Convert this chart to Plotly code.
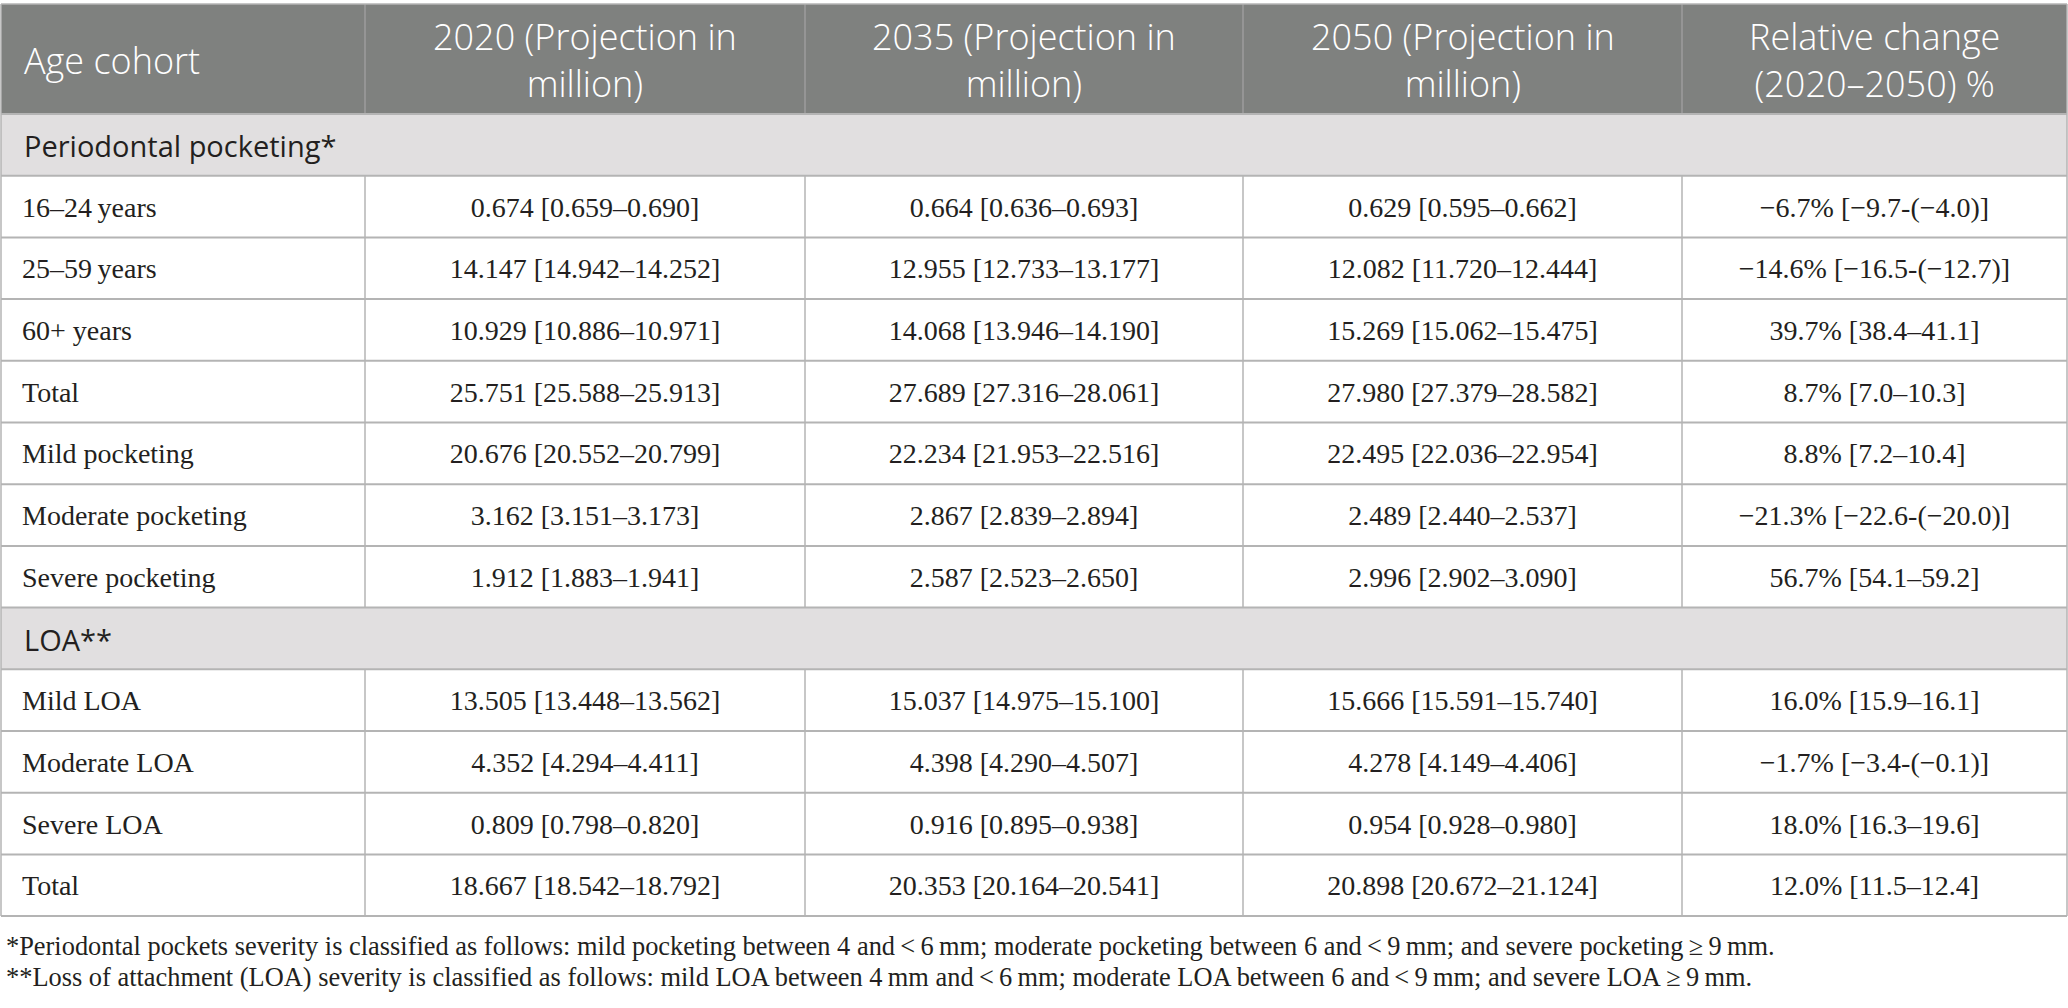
import plotly.graph_objects as go

# table content
HEADERS = ["Age cohort",
           "2020 (Projection in<br>million)",
           "2035 (Projection in<br>million)",
           "2050 (Projection in<br>million)",
           "Relative change<br>(2020–2050) %"]

SECTIONS = ["Periodontal pocketing*", "LOA**"]

POCKET_LABELS = ["16–24\u2009years", "25–59\u2009years", "60+ years", "Total",
                 "Mild pocketing", "Moderate pocketing", "Severe pocketing"]
POCKET_2020 = ["0.674 [0.659–0.690]", "14.147 [14.942–14.252]", "10.929 [10.886–10.971]",
               "25.751 [25.588–25.913]", "20.676 [20.552–20.799]", "3.162 [3.151–3.173]",
               "1.912 [1.883–1.941]"]
POCKET_2035 = ["0.664 [0.636–0.693]", "12.955 [12.733–13.177]", "14.068 [13.946–14.190]",
               "27.689 [27.316–28.061]", "22.234 [21.953–22.516]", "2.867 [2.839–2.894]",
               "2.587 [2.523–2.650]"]
POCKET_2050 = ["0.629 [0.595–0.662]", "12.082 [11.720–12.444]", "15.269 [15.062–15.475]",
               "27.980 [27.379–28.582]", "22.495 [22.036–22.954]", "2.489 [2.440–2.537]",
               "2.996 [2.902–3.090]"]
POCKET_CHANGE = ["−6.7% [−9.7-(−4.0)]", "−14.6% [−16.5-(−12.7)]", "39.7% [38.4–41.1]",
                 "8.7% [7.0–10.3]", "8.8% [7.2–10.4]", "−21.3% [−22.6-(−20.0)]",
                 "56.7% [54.1–59.2]"]

LOA_LABELS = ["Mild LOA", "Moderate LOA", "Severe LOA", "Total"]
LOA_2020 = ["13.505 [13.448–13.562]", "4.352 [4.294–4.411]", "0.809 [0.798–0.820]",
            "18.667 [18.542–18.792]"]
LOA_2035 = ["15.037 [14.975–15.100]", "4.398 [4.290–4.507]", "0.916 [0.895–0.938]",
            "20.353 [20.164–20.541]"]
LOA_2050 = ["15.666 [15.591–15.740]", "4.278 [4.149–4.406]", "0.954 [0.928–0.980]",
            "20.898 [20.672–21.124]"]
LOA_CHANGE = ["16.0% [15.9–16.1]", "−1.7% [−3.4-(−0.1)]", "18.0% [16.3–19.6]",
              "12.0% [11.5–12.4]"]

FOOTNOTES = [
    "*Periodontal pockets severity is classified as follows: mild pocketing between 4 and\u2009<\u20096\u2009mm; "
    "moderate pocketing between 6 and\u2009<\u20099\u2009mm; and severe pocketing\u2009≥\u20099\u2009mm.",
    "**Loss of attachment (LOA) severity is classified as follows: mild LOA between 4\u2009mm and\u2009<\u20096\u2009mm; "
    "moderate LOA between 6 and\u2009<\u20099\u2009mm; and severe LOA\u2009≥\u20099\u2009mm.",
]

# layout styling
W, H = 2068, 1008
COL_EDGES = [1, 365, 805, 1243, 1682, 2067]
TOP = 4
HEADER_H = 110
ROW_H = 61.7
PAD = 21
HEAD_BG = "#7f817f"
SECT_BG = "#e1dfe0"
GRID = "#b4b4b4"
HEAD_GRID = "#9c9d9c"
INK = "#231f20"
SANS = "Open Sans"
SERIF = "Liberation Serif"

# assemble rows: ("section", text) or ("data", [label, v1..v4])
rows = [("section", SECTIONS[0])]
for r in zip(POCKET_LABELS, POCKET_2020, POCKET_2035, POCKET_2050, POCKET_CHANGE):
    rows.append(("data", list(r)))
rows.append(("section", SECTIONS[1]))
for r in zip(LOA_LABELS, LOA_2020, LOA_2035, LOA_2050, LOA_CHANGE):
    rows.append(("data", list(r)))

edges = [TOP, TOP + HEADER_H] + [TOP + HEADER_H + ROW_H * (i + 1) for i in range(len(rows))]
bottom = edges[-1]
centers = [(a + b) / 2 for a, b in zip(COL_EDGES[:-1], COL_EDGES[1:])]

fig = go.Figure()
shapes = []
annotations = []

# header
shapes.append(dict(type="rect", x0=COL_EDGES[0], x1=COL_EDGES[-1], y0=edges[0], y1=edges[1],
                   fillcolor=HEAD_BG, line_width=0, layer="below"))
for x in COL_EDGES[1:-1]:
    shapes.append(dict(type="line", x0=x, x1=x, y0=edges[0], y1=edges[1],
                       line=dict(color=HEAD_GRID, width=1.5), layer="below"))
for i, h in enumerate(HEADERS):
    annotations.append(dict(
        x=COL_EDGES[0] + PAD if i == 0 else centers[i], y=(edges[0] + edges[1]) / 2 + 1,
        text=h, showarrow=False, xanchor="left" if i == 0 else "center", yanchor="middle",
        align="left" if i == 0 else "center",
        font=dict(family=SANS, size=36, color="white", weight=300)))

# body
data_x, data_y, data_text, data_pos = [], [], [], []
for k, (kind, content) in enumerate(rows):
    y0, y1 = edges[k + 1], edges[k + 2]
    ym = (y0 + y1) / 2
    if kind == "section":
        shapes.append(dict(type="rect", x0=COL_EDGES[0], x1=COL_EDGES[-1], y0=y0, y1=y1,
                           fillcolor=SECT_BG, line_width=0, layer="below"))
        annotations.append(dict(
            x=COL_EDGES[0] + PAD, y=ym + 1, text=content, showarrow=False,
            xanchor="left", yanchor="middle",
            font=dict(family=SANS, size=29, color=INK, weight=400)))
    else:
        for x in COL_EDGES[1:-1]:
            shapes.append(dict(type="line", x0=x, x1=x, y0=y0, y1=y1,
                               line=dict(color=GRID, width=1.5), layer="below"))
        for j, val in enumerate(content):
            data_x.append(COL_EDGES[0] + PAD if j == 0 else centers[j])
            data_y.append(ym + 3)
            data_text.append(val)
            data_pos.append("middle right" if j == 0 else "middle center")

# horizontal rules and outer border
for y in edges[1:]:
    shapes.append(dict(type="line", x0=COL_EDGES[0], x1=COL_EDGES[-1], y0=y, y1=y,
                       line=dict(color=GRID, width=2), layer="below"))
shapes.append(dict(type="line", x0=COL_EDGES[0], x1=COL_EDGES[-1], y0=TOP, y1=TOP,
                   line=dict(color=GRID, width=1.5), layer="below"))
for x in (COL_EDGES[0], COL_EDGES[-1]):
    shapes.append(dict(type="line", x0=x, x1=x, y0=TOP, y1=bottom,
                       line=dict(color=GRID, width=1.5), layer="below"))

fig.add_trace(go.Scatter(
    x=data_x, y=data_y, text=data_text, mode="text", textposition=data_pos,
    textfont=dict(family=SERIF, size=28, color=INK), hoverinfo="skip", showlegend=False))

# footnotes
for i, note in enumerate(FOOTNOTES):
    annotations.append(dict(
        x=4, y=bottom + 30 + i * 31, text=note, showarrow=False,
        xanchor="left", yanchor="middle",
        font=dict(family=SERIF, size=26.4, color=INK)))

fig.update_layout(
    width=W, height=H,
    margin=dict(l=0, r=0, t=0, b=0),
    paper_bgcolor="white", plot_bgcolor="white",
    xaxis=dict(range=[0, W], visible=False, fixedrange=True),
    yaxis=dict(range=[H, 0], visible=False, fixedrange=True),
    shapes=shapes, annotations=annotations,
)

# the page body has a default 8px margin; drop it so the table sits at the window edge
fig.write_html("out.html", config={"displayModeBar": False},
               post_script="document.body.style.margin='0';")
